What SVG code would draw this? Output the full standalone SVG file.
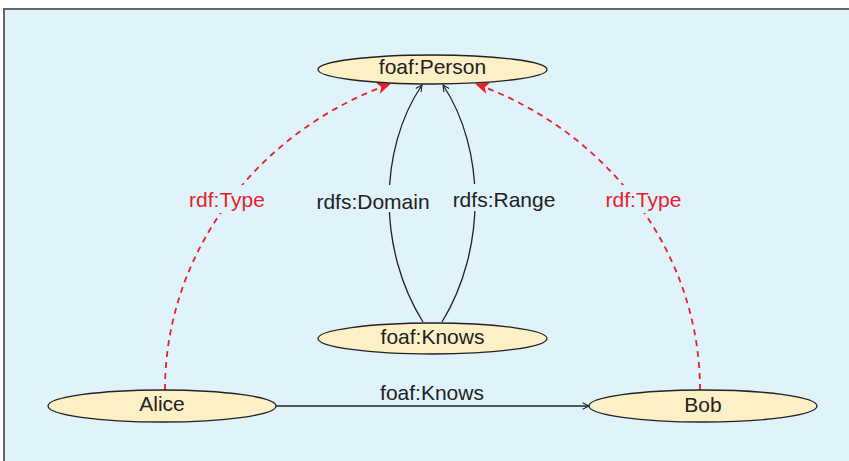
<svg xmlns="http://www.w3.org/2000/svg" width="849" height="461" viewBox="0 0 849 461">
<style>
.node ellipse{fill:#fdf0c6;stroke:#222;stroke-width:1.3}
text{font-family:"Liberation Sans",Arial,sans-serif;font-size:21px;text-anchor:middle;fill:#222}
.red{fill:#e8202a}
.bg{fill:#e0f2fa}
.solid{fill:none;stroke:#222;stroke-width:1.3}
.dash{fill:none;stroke:#e8202a;stroke-width:1.8;stroke-dasharray:6 5}
</style>
<defs>
<marker id="open" viewBox="0 0 10 10" refX="9" refY="5" markerWidth="8" markerHeight="8" markerUnits="userSpaceOnUse" orient="auto">
<path d="M1,1 L9,5 L1,9" fill="none" stroke="#222" stroke-width="1.3"/>
</marker>
<marker id="redhead" viewBox="0 0 12 10" refX="11" refY="5" markerWidth="14" markerHeight="12" markerUnits="userSpaceOnUse" orient="auto">
<path d="M0,0 L12,5 L0,10 L3,5 Z" fill="#e8202a"/>
</marker>
</defs>
<rect x="0" y="0" width="849" height="461" fill="#ffffff"/>
<rect x="4" y="9" width="870" height="470" fill="#e0f2fa" stroke="#666" stroke-width="2"/>
<g id="connectors">
<path class="dash" d="M165,390 C165,250 260,130 390,84" marker-end="url(#redhead)"/>
<path class="dash" d="M700,390 C700,250 605,130 476,84" marker-end="url(#redhead)"/>
<path class="solid" d="M423,322 C378,250 378,150 422,85" marker-end="url(#open)"/>
<path class="solid" d="M442,322 C486,250 486,150 443,85" marker-end="url(#open)"/>
<path class="solid" d="M276,406 L589,406" marker-end="url(#open)"/>
<rect class="bg" x="186" y="185" width="82" height="28"/>
<text class="red" x="227" y="207">rdf:Type</text>
<rect class="bg" x="602" y="185" width="83" height="28"/>
<text class="red" x="643.5" y="207">rdf:Type</text>
<rect class="bg" x="312" y="185" width="122" height="27"/>
<text x="373" y="209">rdfs:Domain</text>
<rect class="bg" x="450" y="184" width="108" height="27"/>
<text x="504" y="207">rdfs:Range</text>
<text x="432" y="400">foaf:Knows</text>
</g>
<g id="person" class="node">
<ellipse cx="432.5" cy="69.5" rx="114.5" ry="14.5"/>
<text x="432.5" y="74">foaf:Person</text>
</g>
<g id="knows" class="node">
<ellipse cx="432.5" cy="338.5" rx="114.5" ry="15.5"/>
<text x="432.5" y="344">foaf:Knows</text>
</g>
<g id="alice" class="node">
<ellipse cx="162" cy="406" rx="114" ry="16"/>
<text x="162" y="411">Alice</text>
</g>
<g id="bob" class="node">
<ellipse cx="703" cy="406" rx="114" ry="16"/>
<text x="703" y="412">Bob</text>
</g>
</svg>
